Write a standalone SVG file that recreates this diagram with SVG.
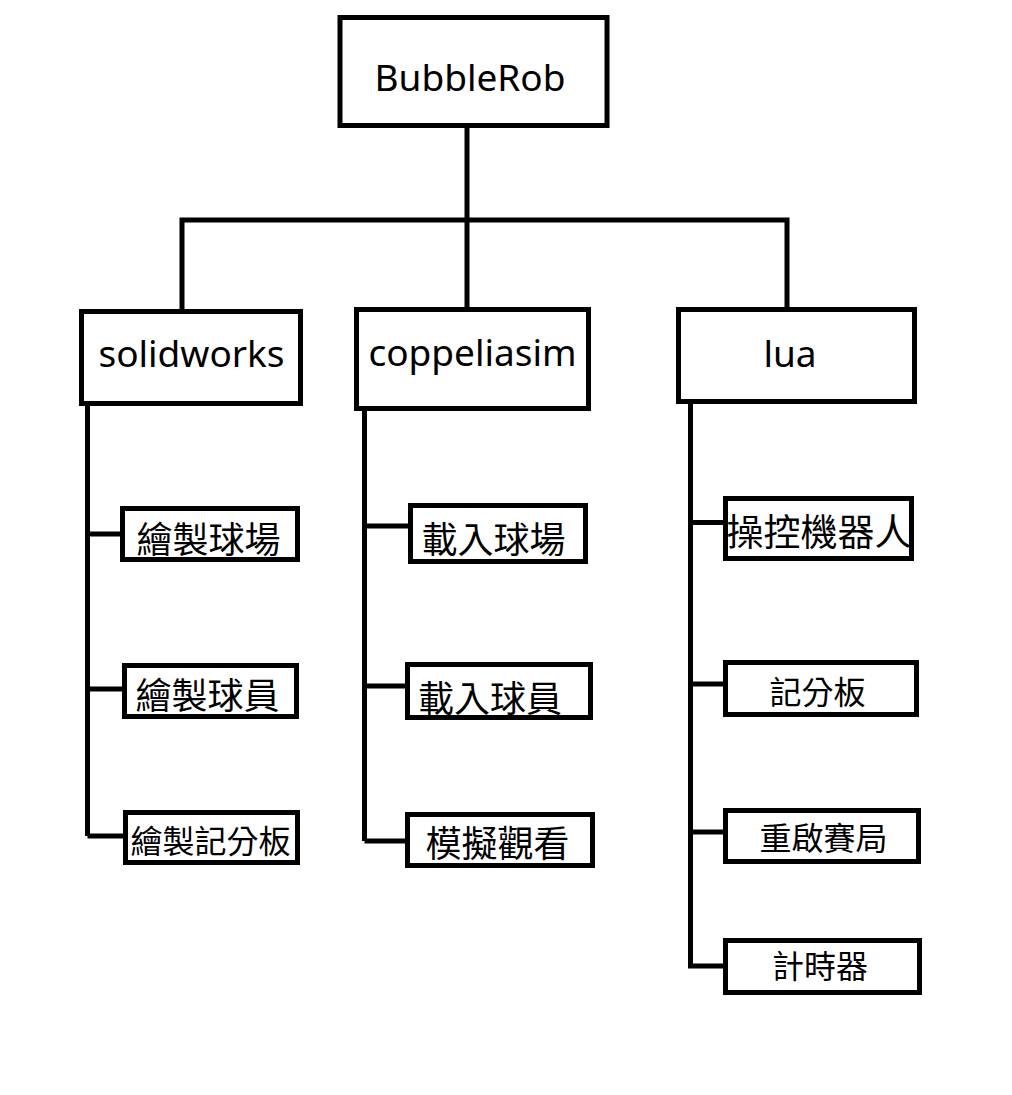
<svg xmlns="http://www.w3.org/2000/svg" width="1012" height="1095" viewBox="0 0 1012 1095">
<style>
.box{fill:#fff;stroke:#000;stroke-width:5}
.ln{fill:none;stroke:#000;stroke-width:5}
.lat{font-family:"Noto Sans","Open Sans","DejaVu Sans",sans-serif;font-size:37px;fill:#000;text-anchor:middle}
.cjk{font-family:"Noto Sans CJK TC","Noto Sans CJK SC",sans-serif;fill:#000;text-anchor:middle;dominant-baseline:central}
</style>
<rect width="1012" height="1095" fill="#fff"/>
<g id="connectors">
<path class="ln" d="M467 126V309"/>
<path class="ln" d="M182 311.5V220H787V309.5"/>
<path class="ln" d="M87.5 404V836M87.5 534H122.5M87.5 689H124.5M87.5 836H125.5"/>
<path class="ln" d="M364.5 409V841M364.5 526H410.5M364.5 686H407.5M364.5 841H407.5"/>
<path class="ln" d="M690.5 402V966M690.5 522.5H725.5M690.5 684H725.5M690.5 832H725.5M688 966H725.5"/>
</g>
<g id="n-bubblerob"><rect class="box" x="340" y="17.5" width="267" height="108"/><text class="lat" x="470" y="91">BubbleRob</text></g>
<g id="n-solidworks"><rect class="box" x="81.5" y="311.5" width="219" height="92"/><text class="lat" x="191.5" y="367">solidworks</text></g>
<g id="n-coppeliasim"><rect class="box" x="356.5" y="309.5" width="232" height="99"/><text class="lat" x="472.5" y="366">coppeliasim</text></g>
<g id="n-lua"><rect class="box" x="678.5" y="309.5" width="236" height="92"/><text class="lat" x="790" y="367">lua</text></g>
<g id="n-s1"><rect class="box" x="122.5" y="508.5" width="175" height="51"/><text class="cjk" x="208.5" y="537" font-size="36">繪製球場</text></g>
<g id="n-s2"><rect class="box" x="124.5" y="665.5" width="172" height="51"/><text class="cjk" x="207.5" y="692.5" font-size="36">繪製球員</text></g>
<g id="n-s3"><rect class="box" x="125.5" y="812.5" width="172" height="50"/><text class="cjk" x="210.5" y="838.5" font-size="32">繪製記分板</text></g>
<g id="n-c1"><rect class="box" x="410.5" y="505.5" width="175" height="56"/><text class="cjk" x="493.5" y="537" font-size="36">載入球場</text></g>
<g id="n-c2"><rect class="box" x="407.5" y="664.5" width="183" height="53"/><text class="cjk" x="490" y="695.5" font-size="36">載入球員</text></g>
<g id="n-c3"><rect class="box" x="407.5" y="814.5" width="185" height="51"/><text class="cjk" x="497.5" y="840.5" font-size="36">模擬觀看</text></g>
<g id="n-l1"><rect class="box" x="725.5" y="498.5" width="186" height="60"/><text class="cjk" x="819" y="529.5" font-size="37">操控機器人</text></g>
<g id="n-l2"><rect class="box" x="725.5" y="662.5" width="191" height="52"/><text class="cjk" x="817.5" y="689.5" font-size="32">記分板</text></g>
<g id="n-l3"><rect class="box" x="725.5" y="810.5" width="193" height="51"/><text class="cjk" x="823.5" y="836" font-size="32">重啟賽局</text></g>
<g id="n-l4"><rect class="box" x="725.5" y="940.5" width="194" height="52"/><text class="cjk" x="820" y="963.5" font-size="32">計時器</text></g>
</svg>
